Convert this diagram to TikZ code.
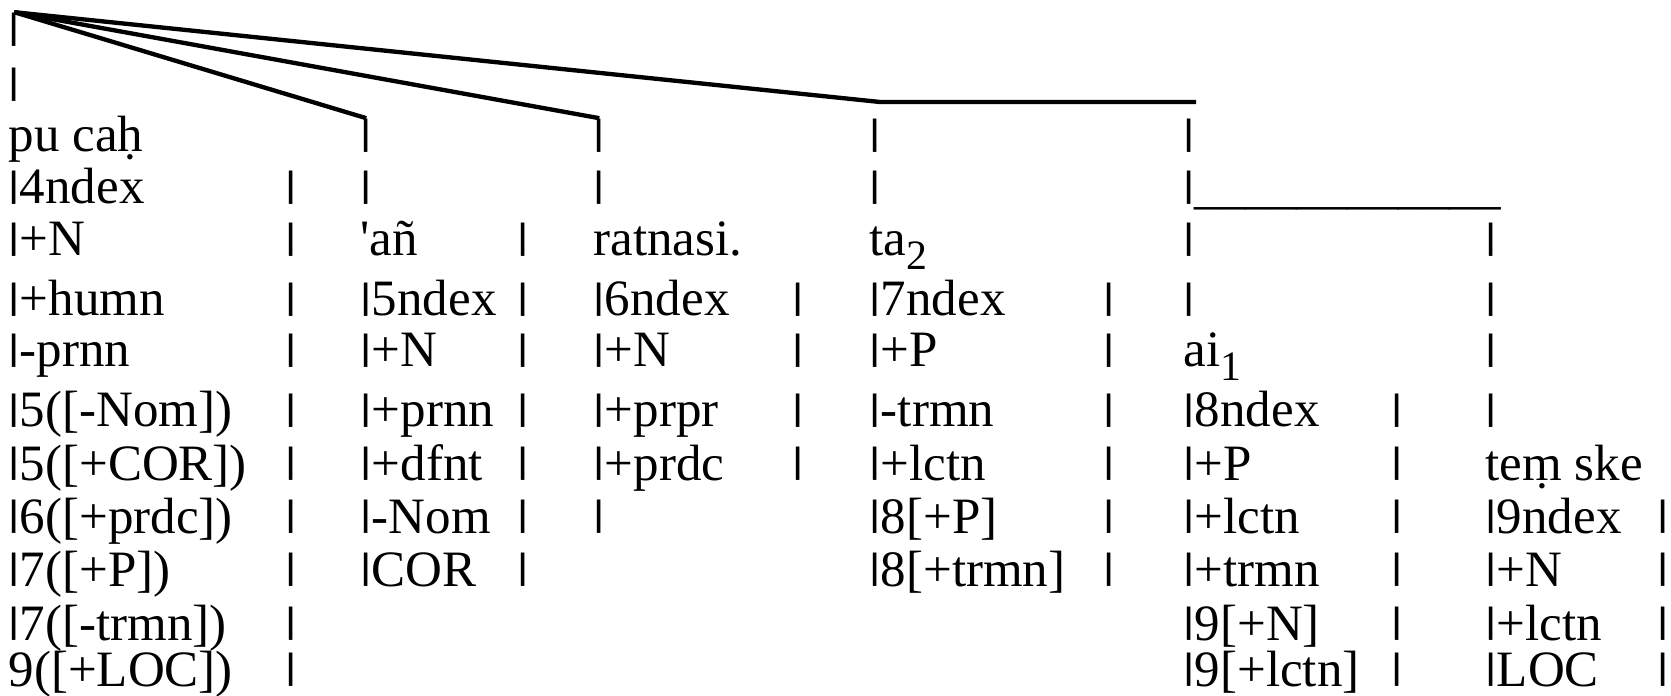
\documentclass[tikz,border=0pt]{standalone}
\usepackage{fontspec}
\setmainfont{Liberation Serif}
\usepackage{graphicx}
\usepackage{tikz}

% short text bar and lowered index
\newcommand\vb{\raisebox{0.15em}{\scalebox{1}[0.72]{\textbf{|}}}}
\newcommand\sub[1]{\raisebox{-0.26em}{\scalebox{0.82}{#1}}}
% baselines of the printed rows -2..10
\def\rowy{{46,101,152,204,256,316,367,427,480,533,586,640,686}}

\tikzset{
  cell/.style={anchor=base west,inner sep=0pt,font=\fontsize{15.3}{18}\selectfont},
  branch/.style={line width=1.3pt,line join=round},
}

\begin{document}
\begin{tikzpicture}[x=0.3pt,y=-0.3pt]
\useasboundingbox (0,0) rectangle (1671,696);
% first column
\foreach \r/\t in %
{-2/\vb,-1/\vb,0/pu caḥ,1/\vb4ndex,2/\vb+N,3/\vb+humn,4/\vb-prnn,5/\vb5([-Nom]),%
6/\vb5([+COR]),7/\vb6([+prdc]),8/\vb7([+P]),9/\vb7([-trmn]),10/9([+LOC])} {
   \node[cell] (a\r) at (8,{\rowy[\r+2]}) {\t};
}
\foreach \r in {1,...,10} {
   \node[cell] (ae\r) at (285,{\rowy[\r+2]}) {\vb};
}
% second column
\foreach \r/\t in %
{0/\vb,1/\vb,2/\textquotesingle añ,3/\vb5ndex,4/\vb+N,5/\vb+prnn,6/\vb+dfnt,7/\vb-Nom,8/\vb COR} {
   \node[cell] (b\r) at (360,{\rowy[\r+2]}) {\t};
}
\foreach \r in {2,...,8} {
   \node[cell] (be\r) at (517,{\rowy[\r+2]}) {\vb};
}
% third column
\foreach \r/\t in %
{0/\vb,1/\vb,2/ratnasi.,3/\vb6ndex,4/\vb+N,5/\vb+prpr,6/\vb+prdc,7/\vb} {
   \node[cell] (c\r) at (593,{\rowy[\r+2]}) {\t};
}
\foreach \r in {3,...,6} {
   \node[cell] (ce\r) at (792,{\rowy[\r+2]}) {\vb};
}
% fourth column
\foreach \r/\t in %
{0/\vb,1/\vb,2/ta\sub{2},3/\vb7ndex,4/\vb+P,5/\vb-trmn,6/\vb+lctn,7/\vb8[+P],8/\vb8[+trmn]} {
   \node[cell] (d\r) at (869,{\rowy[\r+2]}) {\t};
}
\foreach \r in {3,...,8} {
   \node[cell] (de\r) at (1103,{\rowy[\r+2]}) {\vb};
}
% fifth column
\foreach \r/\t in %
{0/\vb,1/\vb\_\_\_\_\_\_\_\_\_\_\_\_,2/\vb,3/\vb,4/ai\sub{1},5/\vb8ndex,6/\vb+P,%
7/\vb+lctn,8/\vb+trmn,9/\vb9[+N],10/\vb9[+lctn]} {
   \node[cell] (e\r) at (1183,{\rowy[\r+2]}) {\t};
}
\foreach \r in {5,...,10} {
   \node[cell] (ee\r) at (1391,{\rowy[\r+2]}) {\vb};
}
% sixth column
\foreach \r/\t in %
{2/\vb,3/\vb,4/\vb,5/\vb,6/teṃ ske,7/\vb9ndex,8/\vb+N,9/\vb+lctn,10/\vb LOC} {
   \node[cell] (f\r) at (1485,{\rowy[\r+2]}) {\t};
}
\foreach \r in {7,...,10} {
   \node[cell] (fe\r) at (1657,{\rowy[\r+2]}) {\vb};
}
% branches from the top
\coordinate (bend) at (880,102);
\coordinate (tip) at (1196,102);
\draw[branch] (a-2.north) -- (b0.north);
\draw[branch] (a-2.north) -- (c0.north);
\draw[branch] (a-2.north) -- (bend) -- (tip);
\end{tikzpicture}
\end{document}
